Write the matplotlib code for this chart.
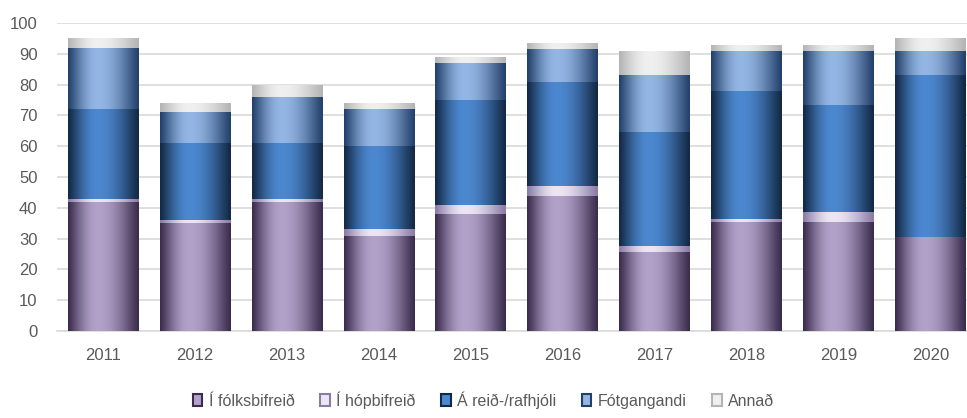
import numpy as np
import matplotlib
matplotlib.use('Agg')
import matplotlib.pyplot as plt
from matplotlib.colors import to_rgb
from matplotlib.patches import Patch

plt.rcParams['font.family'] = ['Liberation Sans Narrow', 'Liberation Sans', 'DejaVu Sans']

# gögn
years = ['2011', '2012', '2013', '2014', '2015', '2016', '2017', '2018', '2019', '2020']
folksbifreid = [42, 35, 42, 31, 38, 44, 25.5, 35.5, 35.5, 30.5]
hopbifreid = [1, 1, 1, 2, 3, 3, 2, 1, 3, 0]
reidhjol = [29, 25, 18, 27, 34, 34, 37, 41.5, 35, 52.5]
fotgangandi = [20, 10, 15, 12, 12, 10.5, 18.5, 13, 17.5, 8]
annad = [3, 3, 4, 2, 2, 2, 8, 2, 2, 4]

labels = ['Í fólksbifreið', 'Í hópbifreið', 'Á reið-/rafhjóli', 'Fótgangandi', 'Annað']
series = [folksbifreid, hopbifreid, reidhjol, fotgangandi, annad]
# (brún, miðja)
colors = [('#3a2c4c', '#b2a2ca'),
          ('#8a7aa6', '#ece6f4'),
          ('#132844', '#4c88d0'),
          ('#22406a', '#94b6e4'),
          ('#b4b4b4', '#f0f0f0')]

fig = plt.figure(figsize=(9.67, 4.18), dpi=100)
ax = fig.add_axes([0.059, 0.208, 0.951, 0.737])

x = np.arange(len(years))
width = 0.77
t = np.linspace(0, 1, 96)
# ljósast aðeins vinstra megin við miðju
u = np.where(t < 0.42, t / 0.42 * 0.5, 0.5 + (t - 0.42) / 0.58 * 0.5)
g = np.sin(np.pi * u) ** 1.1

bottom = np.zeros(len(years))
for vals, (edge, mid), lab in zip(series, colors, labels):
    vals = np.array(vals, dtype=float)
    bars = ax.bar(x, vals, width, bottom=bottom, color=mid, linewidth=0, label=lab, zorder=2)
    e = np.array(to_rgb(edge))
    m = np.array(to_rgb(mid))
    grad = (e[None, :] + (m - e)[None, :] * g[:, None])[None, :, :]
    for b in bars:
        if b.get_height() <= 0:
            continue
        bx, by = b.get_x(), b.get_y()
        im = ax.imshow(grad, extent=(bx, bx + b.get_width(), by, by + b.get_height()),
                       aspect='auto', zorder=3, interpolation='bilinear')
        im.set_clip_path(b)
    bottom += vals

ax.set_xlim(-0.5, 9.5)
ax.set_ylim(0, 100)
ax.set_yticks(range(0, 101, 10))
ax.set_xticks(x)
ax.set_xticklabels(years)
ax.grid(axis='y', color='#d9d9d9', linewidth=1.2, zorder=0)
ax.set_axisbelow(True)
for s in ['top', 'right', 'left']:
    ax.spines[s].set_visible(False)
ax.spines['bottom'].set_color('#d9d9d9')
ax.spines['bottom'].set_linewidth(1.2)
ax.tick_params(axis='both', length=0, labelsize=12, colors='#5a5a5a')
ax.tick_params(axis='x', pad=12)
ax.tick_params(axis='y', pad=14)

handles = [Patch(facecolor=m, edgecolor=e, linewidth=1.5) for e, m in colors]
fig.legend(handles, labels, loc='center', bbox_to_anchor=(0.5, 0.043), ncol=5,
           frameon=False, fontsize=11.5, labelcolor='#5a5a5a',
           handlelength=0.6, handleheight=0.8, handletextpad=0.4, columnspacing=1.6)

fig.savefig('out.png', dpi=100)
